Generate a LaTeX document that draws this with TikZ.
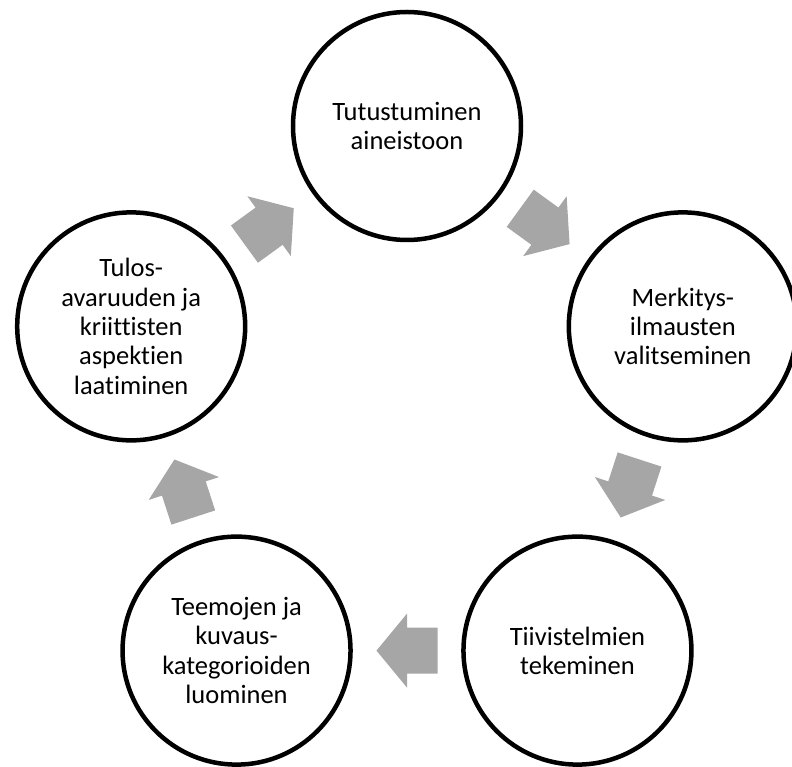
\documentclass[tikz,border=0pt]{standalone}
\usepackage{fontspec}
\setmainfont{Carlito}[Ligatures={NoCommon,NoContextual},RawFeature={-liga;-clig;-calt;-rlig}]
\usepackage{tikz}
\usetikzlibrary{calc}
\definecolor{arrowgray}{HTML}{A6A6A6}

\begin{document}
\begin{tikzpicture}[x=1pt,y=1pt]
    \tikzstyle{stage}=[circle,draw,line width=4.5pt,minimum size=228pt,inner sep=0pt,
        align=center,font=\fontsize{26.5}{29.3}\selectfont]
    \tikzstyle{blockarrow}=[fill=arrowgray,draw=none]

    \useasboundingbox (-407,-351) rectangle (385,416);

    % Stages
    \node[stage] (top) at (90:290) {Tutustuminen\\aineistoon};
    \node[stage] (right) at (18:290) {Merkitys-\\ilmausten\\valitseminen};
    \node[stage] (brgt) at (-54:290) {Tiivistelmien\\tekeminen};
    \node[stage] (blft) at (-126:290) {Teemojen ja\\kuvaus-\\kategorioiden\\luominen};
    \node[stage] (left) at (162:290) {Tulos-\\avaruuden ja\\kriittisten\\aspektien\\laatiminen};

    % Arrows
    \foreach \a/\b/\r in {top/right/-36, right/brgt/-108, brgt/blft/180, blft/left/108, left/top/36}
        \fill[blockarrow,shift={($(\a)!0.5!(\b)$)},rotate=\r]
            (-30.5,-23) -- (0,-23) -- (0,-37) -- (30.5,0) -- (0,37) -- (0,23) -- (-30.5,23) -- cycle;
\end{tikzpicture}
\end{document}
